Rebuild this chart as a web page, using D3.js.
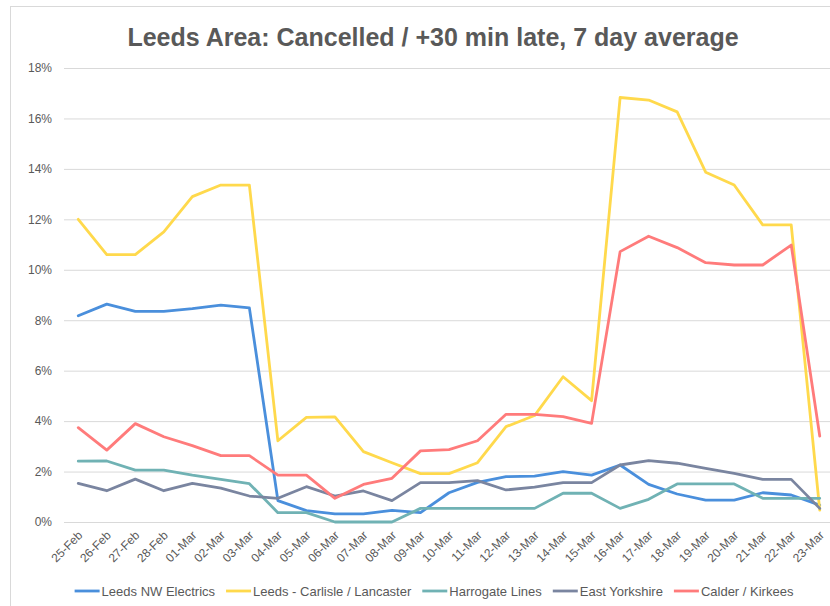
<!DOCTYPE html>
<html>
<head>
<meta charset="utf-8">
<script src="https://cdn.jsdelivr.net/npm/d3@7"></script>
<style>
  body { margin: 0; background: #fff; }
  text { font-family: "Liberation Sans", Arial, sans-serif; }
</style>
</head>
<body>
<div id="holder"></div>
<script>
const w = 830;
const h = 606;

// Data
const days = ["25-Feb", "26-Feb", "27-Feb", "28-Feb", "01-Mar", "02-Mar", "03-Mar", "04-Mar", "05-Mar",
    "06-Mar", "07-Mar", "08-Mar", "09-Mar", "10-Mar", "11-Mar", "12-Mar", "13-Mar", "14-Mar", "15-Mar",
    "16-Mar", "17-Mar", "18-Mar", "19-Mar", "20-Mar", "21-Mar", "22-Mar", "23-Mar"];

const leedsNW = [8.18, 8.64, 8.35, 8.35, 8.46, 8.6, 8.49, 0.85, 0.45, 0.32, 0.32, 0.46, 0.37, 1.16,
    1.57, 1.8, 1.82, 2.0, 1.86, 2.26, 1.49, 1.11, 0.87, 0.87, 1.16, 1.07, 0.67];
const carlisle = [12.0, 10.6, 10.6, 11.5, 12.9, 13.36, 13.36, 3.22, 4.15, 4.17, 2.79, 2.35, 1.92, 1.92,
    2.35, 3.78, 4.22, 5.76, 4.81, 16.83, 16.73, 16.26, 13.87, 13.36, 11.78, 11.78, 0.47];
const harrogate = [2.41, 2.42, 2.06, 2.06, 1.86, 1.69, 1.52, 0.37, 0.37, 0, 0, 0, 0.54, 0.54,
    0.54, 0.54, 0.54, 1.14, 1.14, 0.54, 0.9, 1.51, 1.51, 1.51, 0.94, 0.94, 0.94];
const eastYorks = [1.53, 1.24, 1.7, 1.24, 1.53, 1.34, 1.03, 0.94, 1.4, 1.03, 1.23, 0.85, 1.56, 1.56,
    1.64, 1.27, 1.38, 1.56, 1.56, 2.26, 2.43, 2.33, 2.13, 1.93, 1.69, 1.69, 0.54];
const calder = [3.74, 2.85, 3.9, 3.38, 3.03, 2.63, 2.63, 1.86, 1.86, 0.94, 1.49, 1.73, 2.82, 2.87,
    3.22, 4.27, 4.27, 4.18, 3.91, 10.72, 11.33, 10.88, 10.28, 10.19, 10.19, 10.98, 3.41];

const seriesNames = ["Leeds NW Electrics", "Leeds - Carlisle / Lancaster", "Harrogate Lines", "East Yorkshire", "Calder / Kirkees"];
const yTicks = [0, 2, 4, 6, 8, 10, 12, 14, 16, 18];

const series = [
    { name: seriesNames[0], values: leedsNW, color: "#4a8fdc" },
    { name: seriesNames[1], values: carlisle, color: "#ffd94c" },
    { name: seriesNames[2], values: harrogate, color: "#70b2b4" },
    { name: seriesNames[3], values: eastYorks, color: "#7a85a0" },
    { name: seriesNames[4], values: calder, color: "#ff7b7b" }
];

// Create svg
const svg = d3.select("#holder")
    .append("svg")
    .attr("width", w)
    .attr("height", h)

// chart border (cropped on the right in the reference)
svg.append("rect")
    .attr("x", 10.5)
    .attr("y", 6.5)
    .attr("width", 840)
    .attr("height", 610)
    .attr("fill", "none")
    .attr("stroke", "#d9d9d9")

// Title
svg.append("text")
    .attr("x", 433)
    .attr("y", 46)
    .attr("text-anchor", "middle")
    .attr("font-size", 25)
    .attr("font-weight", "bold")
    .attr("fill", "#595959")
    .text("Leeds Area: Cancelled / +30 min late, 7 day average")

// Scales
const xScale = d3.scaleBand()
    .domain(days)
    .range([64, 834])

const yScale = d3.scaleLinear()
    .domain([0, 18])
    .range([522, 68])

const xPos = (d) => xScale(d) + xScale.bandwidth() / 2;

// Gridlines + y labels
const yAxis = d3.axisLeft(yScale)
    .tickValues(yTicks)
    .tickSize(-(834 - 64))
    .tickPadding(12)
    .tickFormat((d) => d + "%")

svg.append("g")
    .attr("id", "y-axis")
    .attr("transform", `translate(${64},0)`)
    .call(yAxis)
    .call(g => g.select(".domain").remove())
    .call(g => g.selectAll(".tick line").attr("stroke", "#d9d9d9").attr("stroke-width", 1))
    .call(g => g.selectAll(".tick text").attr("fill", "#595959").attr("font-size", 12)
        .attr("font-family", "Liberation Sans, Arial, sans-serif"))

// X axis
const xAxis = d3.axisBottom(xScale)
    .tickSize(0)

svg.append("g")
    .attr("id", "x-axis")
    .attr("transform", `translate(0,${522})`)
    .call(xAxis)
    .call(g => g.select(".domain").attr("stroke", "#d9d9d9"))
    .call(g => g.selectAll(".tick text")
        .attr("fill", "#595959")
        .attr("font-size", 12)
        .attr("font-family", "Liberation Sans, Arial, sans-serif")
        .attr("text-anchor", "end")
        .attr("dy", 0)
        .attr("y", 0)
        .attr("transform", "translate(5,14) rotate(-45)"))

// Lines
const line = d3.line()
    .x((d, i) => xPos(days[i]))
    .y((d) => yScale(d))

svg.append("g")
    .selectAll("path")
    .data(series)
    .join("path")
    .attr("d", (d) => line(d.values))
    .attr("fill", "none")
    .attr("stroke", (d) => d.color)
    .attr("stroke-width", 2.8)
    .attr("stroke-linejoin", "round")
    .attr("stroke-linecap", "round")

// Legend
const legend = svg.append("g")
    .attr("id", "legend")

let lx = 0;
series.forEach(function (s) {
    const item = legend.append("g")
        .attr("transform", `translate(${lx},0)`)
    item.append("line")
        .attr("x1", 0)
        .attr("x2", 25)
        .attr("y1", 0)
        .attr("y2", 0)
        .attr("stroke", s.color)
        .attr("stroke-width", 2.8)
    const t = item.append("text")
        .attr("x", 27)
        .attr("y", 5)
        .attr("font-size", 13)
        .attr("fill", "#595959")
        .text(s.name)
    lx += 27 + t.node().getComputedTextLength() + 11;
})
lx -= 11;
legend.attr("transform", `translate(${434 - lx / 2},${591})`)
</script>
</body>
</html>
